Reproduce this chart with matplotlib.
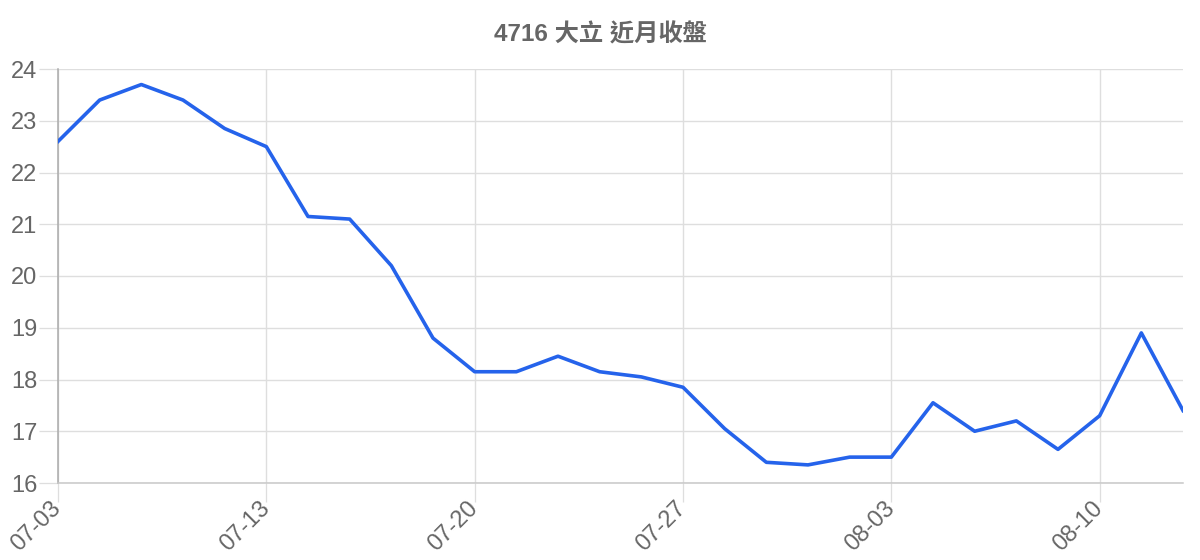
import matplotlib
matplotlib.use("Agg")
import matplotlib.pyplot as plt

plt.rcParams['font.family'] = ['Liberation Sans', 'Noto Sans CJK TC', 'DejaVu Sans']

# trading days shown on the chart
dates = ['07-03', '07-04', '07-05', '07-06', '07-07', '07-13', '07-14', '07-17',
         '07-18', '07-19', '07-20', '07-21', '07-24', '07-25', '07-26', '07-27',
         '07-28', '07-31', '08-01', '08-02', '08-03', '08-04', '08-07', '08-08',
         '08-09', '08-10', '08-11', '08-14']
close = [22.6, 23.4, 23.7, 23.4, 22.85, 22.5, 21.15, 21.1, 20.2, 18.8,
         18.15, 18.15, 18.45, 18.15, 18.05, 17.85, 17.05, 16.4, 16.35, 16.5,
         16.5, 17.55, 17.0, 17.2, 16.65, 17.3, 18.9, 17.4]
y_ticks = [16, 17, 18, 19, 20, 21, 22, 23, 24]
title = '4716 大立 近月收盤'

grid_c = '#dedede'
text_c = '#666666'

fig = plt.figure(figsize=(12, 5.6), dpi=100)
ax = fig.add_axes([58 / 1200, 1 - 483 / 560, 1125 / 1200, 414 / 560])

x = list(range(len(close)))
ax.plot(x, close, color='#2563eb', linewidth=2.6, zorder=3)

ax.set_xlim(0, len(close) - 1)
ax.set_ylim(y_ticks[0], y_ticks[-1])

label_idx = list(range(0, len(dates), 5))
ax.set_xticks(label_idx)
ax.set_xticklabels([dates[i] for i in label_idx], rotation=45, ha='right',
                   va='center', rotation_mode='anchor')
ax.set_yticks(y_ticks)
ax.set_yticklabels([str(v) for v in y_ticks])

ax.tick_params(axis='both', length=14, width=0.9, color=grid_c,
               labelsize=17, labelcolor=text_c)
ax.tick_params(axis='y', pad=1)
ax.tick_params(axis='x', pad=2)

ax.grid(True, color=grid_c, linewidth=1.0, zorder=0)
for s in ['top', 'right']:
    ax.spines[s].set_visible(False)
ax.spines['left'].set_color('#aaaaaa')
ax.spines['left'].set_linewidth(1.1)
ax.spines['bottom'].set_color('#c8c8c8')
ax.spines['bottom'].set_linewidth(1.1)

fig.text(0.5, 1 - 35 / 560, title, ha='center', va='center',
         fontsize=17.5, fontweight='bold', color=text_c)

fig.savefig('out.png', dpi=100)
